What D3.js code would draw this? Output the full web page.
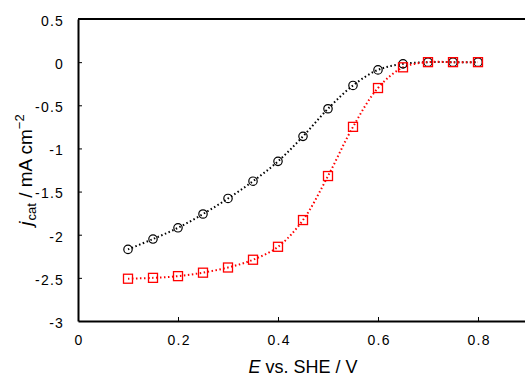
<!DOCTYPE html>
<html><head><meta charset="utf-8">
<script src="https://cdn.jsdelivr.net/npm/d3@7"></script>
<style>body{margin:0;background:#fff}svg{display:block}text{font-family:"Liberation Sans",Arial,sans-serif;fill:#000}</style>
</head><body><svg id="c" width="525" height="376"></svg>
<script>
const potentials = [0.1,0.15,0.2,0.25,0.3,0.35,0.4,0.45,0.5,0.55,0.6,0.65,0.7,0.75,0.8];
const seriesBlack = [-2.17,-2.05,-1.92,-1.76,-1.58,-1.38,-1.15,-0.86,-0.54,-0.27,-0.09,-0.02,0,0,0];
const seriesRed = [-2.51,-2.50,-2.48,-2.44,-2.38,-2.29,-2.14,-1.83,-1.32,-0.75,-0.30,-0.06,0,0,0];
const xTicks = [0,0.2,0.4,0.6,0.8];
const yTicks = [0.5,0,-0.5,-1,-1.5,-2,-2.5,-3];

const svg = d3.select("#c");
const L=78, T=19, B=321;
const x = d3.scaleLinear().domain([0,0.9]).range([L, L+450]);
const y = d3.scaleLinear().domain([-3,0.5]).range([B, T]);

const xa = svg.append("g").attr("transform",`translate(0,${B})`)
  .call(d3.axisBottom(x).tickValues(xTicks).tickSizeInner(-4).tickSizeOuter(0).tickPadding(14).tickFormat(d=>String(d)));
const ya = svg.append("g").attr("transform",`translate(${L},0)`)
  .call(d3.axisLeft(y).tickValues(yTicks).tickSizeInner(-4).tickSizeOuter(0).tickPadding(14).tickFormat(d=>String(d)));
[xa,ya].forEach(a=>{a.select(".domain").attr("stroke","#000").attr("stroke-width",2);
  a.selectAll(".tick line").attr("stroke","#000").attr("stroke-width",1);
  a.selectAll("text").attr("font-size",14).attr("letter-spacing","1.2px").attr("fill","#000");});
ya.selectAll("text").attr("dy","0.45em");
xa.selectAll("text").attr("dx","0.6px");
ya.selectAll(".tick line").filter(d=>d===0.5||d===-3).remove();
svg.append("line").attr("x1",L).attr("x2",525).attr("y1",T).attr("y2",T).attr("stroke","#000").attr("stroke-width",2);

const line = d3.line().x(d=>x(d[0])).y(d=>y(d[1])).curve(d3.curveCatmullRom.alpha(0.5));
const dBlack = potentials.map((p,i)=>[p,seriesBlack[i]]);
const dRed = potentials.map((p,i)=>[p,seriesRed[i]]);

svg.append("path").datum(dBlack).attr("d",line).attr("fill","none").attr("stroke","#000").attr("stroke-width",2).attr("stroke-dasharray","1.5,2.5");
svg.append("path").datum(dRed).attr("d",line).attr("fill","none").attr("stroke","#ff0000").attr("stroke-width",2).attr("stroke-dasharray","1.5,2.5");

svg.selectAll(".circ").data(dBlack).enter().append("circle")
  .attr("cx",d=>x(d[0])).attr("cy",d=>y(d[1])).attr("r",4.2).attr("fill","none").attr("stroke","#000").attr("stroke-width",1.2);
svg.selectAll(".sq").data(dRed).enter().append("rect")
  .attr("x",d=>x(d[0])-4.5).attr("y",d=>y(d[1])-4.5).attr("width",9).attr("height",9).attr("fill","none").attr("stroke","#ff0000").attr("stroke-width",1.3);

const xt = svg.append("text").attr("x",303).attr("y",373).attr("text-anchor","middle").attr("font-size",18);
xt.append("tspan").attr("font-style","italic").text("E");
xt.append("tspan").text(" vs. SHE / V");
const yt = svg.append("text").attr("transform","translate(31.5,170) rotate(-90)").attr("text-anchor","middle").attr("font-size",19);
yt.append("tspan").attr("font-style","italic").text("j");
yt.append("tspan").attr("font-size",13).attr("dy",4).attr("dx",1).text("cat");
yt.append("tspan").attr("dy",-4).text(" / mA cm");
yt.append("tspan").attr("font-size",13).attr("dy",-8).text("−2");
</script></body></html>
